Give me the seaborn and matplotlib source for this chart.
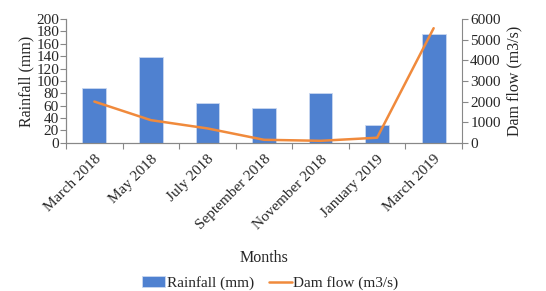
import numpy as np
import pandas as pd
import seaborn as sns
import matplotlib.pyplot as plt
from matplotlib.ticker import FixedLocator

months = ['March 2018', 'May 2018', 'July 2018', 'September 2018',
          'November 2018', 'January 2019', 'March 2019']
rainfall = [88, 139, 64, 57, 80, 29, 175]
dam_flow = [2000, 1100, 700, 150, 100, 250, 5550]

df = pd.DataFrame({'month': months, 'rain': rainfall, 'flow': dam_flow,
                   'pos': np.arange(len(months))})

sns.set_style('white')
plt.rcParams['font.family'] = ['Liberation Serif', 'DejaVu Serif']
plt.rcParams['font.size'] = 11

fig = plt.figure(figsize=(5.46, 2.91), dpi=100)
ax = fig.add_axes([0.121, 0.509, 0.725, 0.426])

sns.barplot(data=df, x='month', y='rain', color='#4F81D0', width=0.42,
            saturation=1, edgecolor='#C9D8F0', linewidth=0.6, ax=ax,
            label='Rainfall (mm)')
ax2 = ax.twinx()
sns.lineplot(data=df, x='pos', y='flow', color='#F08A3C', linewidth=1.8,
             ax=ax2, label='Dam flow (m3/s)')

ax.set_xlim(-0.5, len(months) - 0.5)
ax.set_ylim(0, 200)
ax.set_yticks(range(0, 201, 20))
ax2.set_ylim(0, 6000)
ax2.set_yticks(range(0, 6001, 1000))

ax.set_ylabel('Rainfall (mm)', fontsize=11.5, labelpad=1)
ax2.set_ylabel('Dam flow (m3/s)', fontsize=11.5, labelpad=4)
ax.set_xlabel('Months', fontsize=11.5, labelpad=13)

ax.set_xticks(range(len(months)))
ax.set_xticklabels(months, rotation=45, ha='right', rotation_mode='anchor')
ax.xaxis.set_minor_locator(FixedLocator(np.arange(-0.5, len(months), 1)))
ax.tick_params(axis='x', which='major', length=0, pad=7, labelsize=11)
ax.tick_params(axis='x', which='minor', length=4, color='#888888', width=0.8,
               direction='out', bottom=True)
ax.tick_params(axis='y', length=4, color='#888888', width=0.8, direction='out',
               left=True, pad=1, labelsize=11)
ax2.tick_params(axis='y', length=4, color='#888888', width=0.8, direction='out',
                right=True, pad=2, labelsize=11)

for a in (ax, ax2):
    a.spines['top'].set_visible(False)
    for s in ('left', 'right', 'bottom'):
        a.spines[s].set_color('#888888')
        a.spines[s].set_linewidth(0.8)
ax.spines['right'].set_visible(False)

h1, l1 = ax.get_legend_handles_labels()
h2, l2 = ax2.get_legend_handles_labels()
if ax.get_legend():
    ax.get_legend().remove()
if ax2.get_legend():
    ax2.get_legend().remove()
fig.legend(h1 + h2, l1 + l2, loc='lower center', bbox_to_anchor=(0.495, -0.045),
           ncol=2, frameon=False, fontsize=11, handlelength=1.5,
           handletextpad=0.1, columnspacing=1.0)

fig.savefig('out.png', dpi=100)
